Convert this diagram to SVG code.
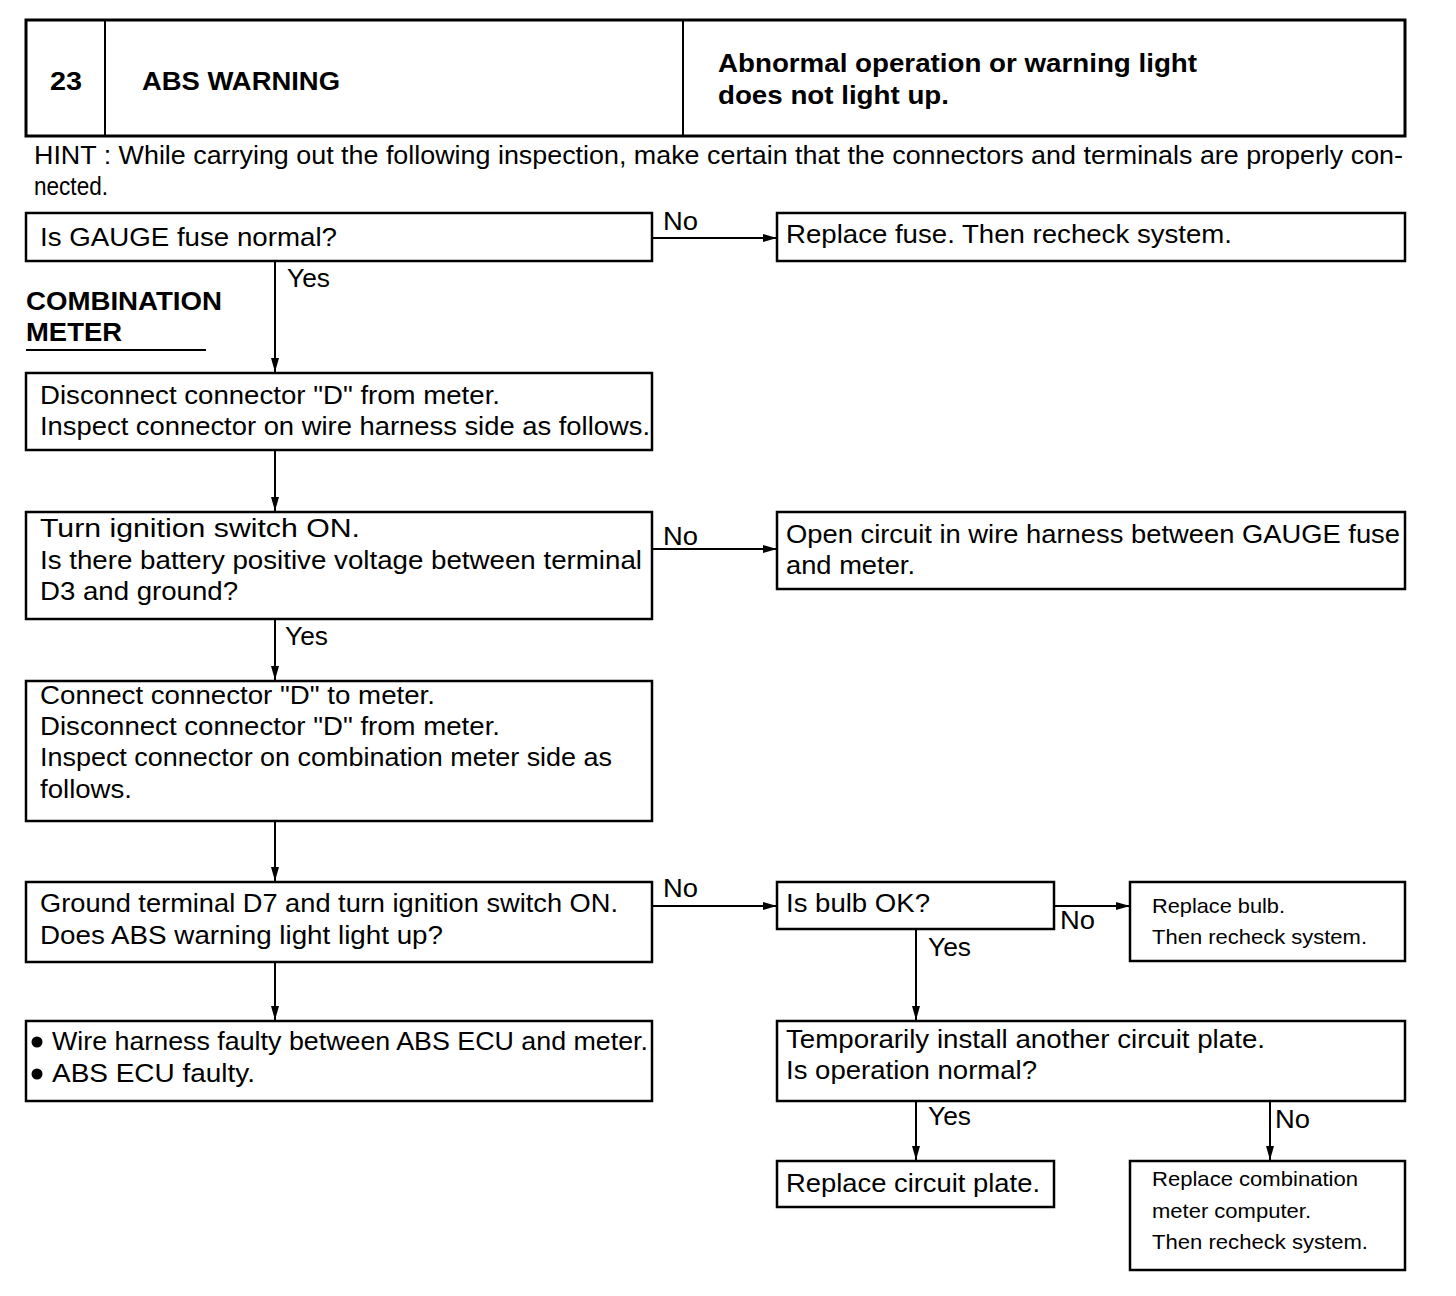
<svg xmlns="http://www.w3.org/2000/svg" width="1456" height="1296" viewBox="0 0 1456 1296">
<style>
text{font-family:"Liberation Sans",Arial,sans-serif;fill:#000}
.t{font-size:26px}
.s{font-size:21px}
.b{font-weight:bold;font-size:25px}
.box{fill:#fff;stroke:#000;stroke-width:2.5}
.ln{stroke:#000;stroke-width:2;fill:none}
</style>
<defs>
<marker id="ah" viewBox="0 0 14 8" refX="14" refY="4" markerWidth="14" markerHeight="8" markerUnits="userSpaceOnUse" orient="auto">
<path d="M0,0 L14,4 L0,8 z" fill="#000"/>
</marker>
</defs>
<rect width="1456" height="1296" fill="#fff"/>
<g id="header">
<rect class="box" x="26" y="20" width="1379" height="116" style="stroke-width:3"/>
<line class="ln" x1="105" y1="20" x2="105" y2="136"/>
<line class="ln" x1="683" y1="20" x2="683" y2="136"/>
<text class="b" x="50" y="90" textLength="32" lengthAdjust="spacingAndGlyphs">23</text>
<text class="b" x="142" y="90" textLength="198" lengthAdjust="spacingAndGlyphs">ABS WARNING</text>
<text class="b" x="718" y="72" textLength="479" lengthAdjust="spacingAndGlyphs">Abnormal operation or warning light</text>
<text class="b" x="718" y="104" textLength="231" lengthAdjust="spacingAndGlyphs">does not light up.</text>
</g>
<g id="hint">
<text class="t" x="34" y="164" textLength="1369" lengthAdjust="spacingAndGlyphs">HINT : While carrying out the following inspection, make certain that the connectors and terminals are properly con-</text>
<text class="t" x="34" y="195" textLength="74" lengthAdjust="spacingAndGlyphs">nected.</text>
</g>
<g id="section-label">
<text class="b" x="26" y="310" textLength="196" lengthAdjust="spacingAndGlyphs">COMBINATION</text>
<text class="b" x="26" y="341" textLength="96" lengthAdjust="spacingAndGlyphs">METER</text>
<line class="ln" x1="26" y1="350" x2="206" y2="350"/>
</g>
<g id="connectors">
<line class="ln" x1="652" y1="238" x2="777" y2="238" marker-end="url(#ah)"/>
<line class="ln" x1="275" y1="261" x2="275" y2="372" marker-end="url(#ah)"/>
<line class="ln" x1="275" y1="450" x2="275" y2="511" marker-end="url(#ah)"/>
<line class="ln" x1="652" y1="549" x2="777" y2="549" marker-end="url(#ah)"/>
<line class="ln" x1="275" y1="619" x2="275" y2="680" marker-end="url(#ah)"/>
<line class="ln" x1="275" y1="821" x2="275" y2="881" marker-end="url(#ah)"/>
<line class="ln" x1="652" y1="906" x2="777" y2="906" marker-end="url(#ah)"/>
<line class="ln" x1="1054" y1="906" x2="1130" y2="906" marker-end="url(#ah)"/>
<line class="ln" x1="916" y1="929" x2="916" y2="1020" marker-end="url(#ah)"/>
<line class="ln" x1="275" y1="962" x2="275" y2="1020" marker-end="url(#ah)"/>
<line class="ln" x1="916" y1="1101" x2="916" y2="1160" marker-end="url(#ah)"/>
<line class="ln" x1="1270" y1="1101" x2="1270" y2="1160" marker-end="url(#ah)"/>
<text class="t" x="663" y="230" textLength="35" lengthAdjust="spacingAndGlyphs">No</text>
<text class="t" x="287" y="287" textLength="43" lengthAdjust="spacingAndGlyphs">Yes</text>
<text class="t" x="663" y="545" textLength="35" lengthAdjust="spacingAndGlyphs">No</text>
<text class="t" x="285" y="645" textLength="43" lengthAdjust="spacingAndGlyphs">Yes</text>
<text class="t" x="663" y="897" textLength="35" lengthAdjust="spacingAndGlyphs">No</text>
<text class="t" x="1060" y="929" textLength="35" lengthAdjust="spacingAndGlyphs">No</text>
<text class="t" x="928" y="956" textLength="43" lengthAdjust="spacingAndGlyphs">Yes</text>
<text class="t" x="928" y="1125" textLength="43" lengthAdjust="spacingAndGlyphs">Yes</text>
<text class="t" x="1275" y="1128" textLength="35" lengthAdjust="spacingAndGlyphs">No</text>
</g>
<g id="n1">
<rect class="box" x="26" y="213" width="626" height="48"/>
<text class="t" x="40" y="246" textLength="297" lengthAdjust="spacingAndGlyphs">Is GAUGE fuse normal?</text>
</g>
<g id="n2">
<rect class="box" x="777" y="213" width="628" height="48"/>
<text class="t" x="786" y="243" textLength="446" lengthAdjust="spacingAndGlyphs">Replace fuse. Then recheck system.</text>
</g>
<g id="n3">
<rect class="box" x="26" y="373" width="626" height="77"/>
<text class="t" x="40" y="404" textLength="460" lengthAdjust="spacingAndGlyphs">Disconnect connector "D" from meter.</text>
<text class="t" x="40" y="435" textLength="610" lengthAdjust="spacingAndGlyphs">Inspect connector on wire harness side as follows.</text>
</g>
<g id="n4">
<rect class="box" x="26" y="512" width="626" height="107"/>
<text class="t" x="40" y="537" textLength="320" lengthAdjust="spacingAndGlyphs">Turn ignition switch ON.</text>
<text class="t" x="40" y="569" textLength="602" lengthAdjust="spacingAndGlyphs">Is there battery positive voltage between terminal</text>
<text class="t" x="40" y="600" textLength="198" lengthAdjust="spacingAndGlyphs">D3 and ground?</text>
</g>
<g id="n5">
<rect class="box" x="777" y="512" width="628" height="77"/>
<text class="t" x="786" y="543" textLength="614" lengthAdjust="spacingAndGlyphs">Open circuit in wire harness between GAUGE fuse</text>
<text class="t" x="786" y="574" textLength="129" lengthAdjust="spacingAndGlyphs">and meter.</text>
</g>
<g id="n6">
<rect class="box" x="26" y="681" width="626" height="140"/>
<text class="t" x="40" y="704" textLength="395" lengthAdjust="spacingAndGlyphs">Connect connector "D" to meter.</text>
<text class="t" x="40" y="735" textLength="460" lengthAdjust="spacingAndGlyphs">Disconnect connector "D" from meter.</text>
<text class="t" x="40" y="766" textLength="572" lengthAdjust="spacingAndGlyphs">Inspect connector on combination meter side as</text>
<text class="t" x="40" y="798" textLength="92" lengthAdjust="spacingAndGlyphs">follows.</text>
</g>
<g id="n7">
<rect class="box" x="26" y="882" width="626" height="80"/>
<text class="t" x="40" y="912" textLength="578" lengthAdjust="spacingAndGlyphs">Ground terminal D7 and turn ignition switch ON.</text>
<text class="t" x="40" y="944" textLength="403" lengthAdjust="spacingAndGlyphs">Does ABS warning light light up?</text>
</g>
<g id="n8">
<rect class="box" x="777" y="882" width="277" height="47"/>
<text class="t" x="786" y="912" textLength="144" lengthAdjust="spacingAndGlyphs">Is bulb OK?</text>
</g>
<g id="n9">
<rect class="box" x="1130" y="882" width="275" height="79"/>
<text class="s" x="1152" y="913" textLength="133" lengthAdjust="spacingAndGlyphs">Replace bulb.</text>
<text class="s" x="1152" y="944" textLength="215" lengthAdjust="spacingAndGlyphs">Then recheck system.</text>
</g>
<g id="n10">
<rect class="box" x="26" y="1021" width="626" height="80"/>
<circle cx="37" cy="1042" r="5.5" fill="#000"/>
<text class="t" x="52" y="1050" textLength="596" lengthAdjust="spacingAndGlyphs">Wire harness faulty between ABS ECU and meter.</text>
<circle cx="37" cy="1074" r="5.5" fill="#000"/>
<text class="t" x="52" y="1082" textLength="203" lengthAdjust="spacingAndGlyphs">ABS ECU faulty.</text>
</g>
<g id="n11">
<rect class="box" x="777" y="1021" width="628" height="80"/>
<text class="t" x="786" y="1048" textLength="479" lengthAdjust="spacingAndGlyphs">Temporarily install another circuit plate.</text>
<text class="t" x="786" y="1079" textLength="251" lengthAdjust="spacingAndGlyphs">Is operation normal?</text>
</g>
<g id="n12">
<rect class="box" x="777" y="1161" width="277" height="46"/>
<text class="t" x="786" y="1192" textLength="254" lengthAdjust="spacingAndGlyphs">Replace circuit plate.</text>
</g>
<g id="n13">
<rect class="box" x="1130" y="1161" width="275" height="109"/>
<text class="s" x="1152" y="1186" textLength="206" lengthAdjust="spacingAndGlyphs">Replace combination</text>
<text class="s" x="1152" y="1218" textLength="159" lengthAdjust="spacingAndGlyphs">meter computer.</text>
<text class="s" x="1152" y="1249" textLength="216" lengthAdjust="spacingAndGlyphs">Then recheck system.</text>
</g>
</svg>
